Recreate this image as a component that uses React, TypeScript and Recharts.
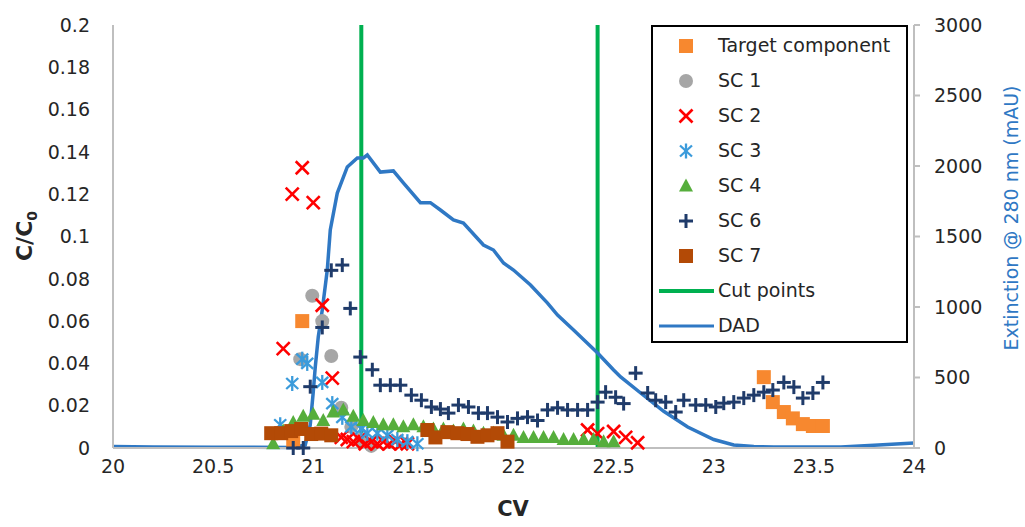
import React from "react";
import {
  ComposedChart,
  XAxis,
  YAxis,
  Scatter,
  Line,
  ReferenceLine,
  Label,
} from "recharts";

const FONT = "DejaVu Sans";
const AXIS_GRAY = "#BFBFBF";
const TEXT = "#262626";

const cvTicks = [20, 20.5, 21, 21.5, 22, 22.5, 23, 23.5, 24];
const ratioTicks = [0, 0.02, 0.04, 0.06, 0.08, 0.1, 0.12, 0.14, 0.16, 0.18, 0.2];
const dadTicks = [0, 500, 1000, 1500, 2000, 2500, 3000];
const cutPoints = [21.24, 22.42];

// [CV, C/C0]
const target: [number, number][] = [
  [20.9, 0.003],
  [20.945, 0.06],
  [23.25, 0.0335],
  [23.295, 0.0217],
  [23.35, 0.017],
  [23.395, 0.014],
  [23.445, 0.0113],
  [23.495, 0.0104],
  [23.545, 0.0104],
];

const sc1: [number, number][] = [
  [20.935, 0.042],
  [20.995, 0.072],
  [21.045, 0.06],
  [21.09, 0.0435],
  [21.14, 0.019],
  [21.19, 0.01],
  [21.24, 0.004],
  [21.29, 0.001],
];

const sc2: [number, number][] = [
  [20.85, 0.047],
  [20.895, 0.12],
  [20.945, 0.1325],
  [21.0, 0.116],
  [21.045, 0.0675],
  [21.095, 0.033],
  [21.14, 0.005],
  [21.17, 0.004],
  [21.2, 0.003],
  [21.23, 0.004],
  [21.26, 0.002],
  [21.29, 0.003],
  [21.32, 0.002],
  [21.35, 0.003],
  [21.38, 0.002],
  [21.41, 0.003],
  [21.44, 0.002],
  [21.47, 0.002],
  [22.37, 0.0085],
  [22.42, 0.0068],
  [22.5, 0.0078],
  [22.56, 0.005],
  [22.62, 0.0025],
];

const sc3: [number, number][] = [
  [20.835, 0.011],
  [20.895, 0.0305],
  [20.945, 0.042],
  [20.97, 0.04],
  [21.045, 0.031],
  [21.095, 0.021],
  [21.145, 0.0145],
  [21.19, 0.01],
  [21.24, 0.009],
  [21.27, 0.007],
  [21.32, 0.007],
  [21.37, 0.006],
  [21.42, 0.004],
  [21.47, 0.003],
  [21.52, 0.002],
];

const sc4: [number, number][] = [
  [20.8, 0.002],
  [20.85, 0.008],
  [20.9, 0.012],
  [20.95, 0.015],
  [21.0, 0.016],
  [21.05, 0.013],
  [21.1, 0.017],
  [21.15, 0.018],
  [21.2, 0.015],
  [21.25, 0.013],
  [21.3, 0.012],
  [21.35, 0.011],
  [21.4, 0.011],
  [21.45, 0.01],
  [21.5, 0.011],
  [21.55, 0.01],
  [21.6, 0.009],
  [21.65, 0.009],
  [21.7, 0.008],
  [21.75, 0.009],
  [21.8, 0.008],
  [21.85, 0.007],
  [21.9, 0.007],
  [21.95, 0.006],
  [22.0, 0.006],
  [22.05, 0.005],
  [22.1, 0.005],
  [22.15, 0.005],
  [22.2, 0.005],
  [22.25, 0.004],
  [22.3, 0.004],
  [22.35, 0.004],
  [22.4, 0.004],
  [22.45, 0.003],
  [22.5, 0.003],
];

const sc6: [number, number][] = [
  [20.9, 0],
  [20.95, 0],
  [20.985, 0.029],
  [21.045, 0.057],
  [21.09, 0.084],
  [21.145, 0.0865],
  [21.185, 0.066],
  [21.235, 0.043],
  [21.295, 0.037],
  [21.335, 0.0297],
  [21.385, 0.0297],
  [21.435, 0.0297],
  [21.49, 0.025],
  [21.54, 0.0226],
  [21.59, 0.0194],
  [21.635, 0.0184],
  [21.675, 0.0165],
  [21.725, 0.0203],
  [21.775, 0.0194],
  [21.825, 0.0165],
  [21.87, 0.0165],
  [21.92, 0.0146],
  [21.97, 0.0123],
  [22.02, 0.014],
  [22.07, 0.0146],
  [22.12, 0.013],
  [22.17, 0.018],
  [22.22, 0.019],
  [22.27, 0.018],
  [22.32, 0.018],
  [22.37, 0.018],
  [22.42, 0.0217],
  [22.46, 0.0264],
  [22.51, 0.024],
  [22.55, 0.021],
  [22.61, 0.0354],
  [22.67, 0.026],
  [22.71, 0.0226],
  [22.76, 0.0217],
  [22.81, 0.017],
  [22.85, 0.0226],
  [22.91, 0.0203],
  [22.96, 0.0203],
  [23.01, 0.0194],
  [23.05, 0.0212],
  [23.1, 0.0217],
  [23.15, 0.0236],
  [23.2, 0.025],
  [23.25, 0.0264],
  [23.295, 0.0274],
  [23.35, 0.031],
  [23.4, 0.0288],
  [23.445, 0.0236],
  [23.495, 0.026],
  [23.545, 0.031],
];

const sc7: [number, number][] = [
  [20.79, 0.007],
  [20.84, 0.007],
  [20.89, 0.008],
  [20.94, 0.009],
  [20.99, 0.0066],
  [21.04, 0.0068],
  [21.09, 0.006],
  [21.57, 0.0085],
  [21.61, 0.005],
  [21.67, 0.0075],
  [21.72, 0.007],
  [21.77, 0.0066],
  [21.82, 0.0053],
  [21.87, 0.006],
  [21.92, 0.007],
  [21.97, 0.003],
];

// [CV, mAU]
const dad: [number, number][] = [
  [20, 10],
  [20.2, 7],
  [20.5, 5],
  [20.9, 4],
  [20.96, 21],
  [20.985, 163],
  [21.0, 397],
  [21.01, 574],
  [21.025, 787],
  [21.045, 979],
  [21.07, 1262],
  [21.085, 1546],
  [21.12, 1808],
  [21.17, 1993],
  [21.22, 2057],
  [21.25, 2057],
  [21.27, 2078],
  [21.335, 1957],
  [21.4, 1965],
  [21.45, 1880],
  [21.535, 1740],
  [21.585, 1740],
  [21.635, 1688],
  [21.7, 1617],
  [21.75, 1596],
  [21.85, 1440],
  [21.9, 1404],
  [21.95, 1312],
  [22.0, 1262],
  [22.085, 1156],
  [22.17, 1028],
  [22.22, 943],
  [22.3, 837],
  [22.42, 674],
  [22.5, 553],
  [22.535, 504],
  [22.635, 390],
  [22.75, 260],
  [22.87, 149],
  [23.0, 60],
  [23.1, 21],
  [23.2, 10],
  [23.3, 7],
  [23.635, 7],
  [23.8, 20],
  [24, 35],
];

const toPts = (arr: [number, number][]) => arr.map(([x, y]) => ({ x, y }));

const COLORS = {
  target: "#F7882F",
  sc1: "#A6A6A6",
  sc2: "#FF0000",
  sc3: "#3B9BDB",
  sc4: "#56AE3C",
  sc6: "#1F3B6A",
  sc7: "#B34A06",
  cut: "#00B050",
  dad: "#2F78C4",
};

type MarkerProps = { cx?: number; cy?: number };

const SquareMark = (color: string) => ({ cx = 0, cy = 0 }: MarkerProps) => (
  <rect x={cx - 7} y={cy - 7} width={14} height={14} fill={color} />
);
const CircleMark = (color: string) => ({ cx = 0, cy = 0 }: MarkerProps) => (
  <circle cx={cx} cy={cy} r={7} fill={color} />
);
const XMark = (color: string) => ({ cx = 0, cy = 0 }: MarkerProps) => (
  <g stroke={color} strokeWidth={2.6}>
    <line x1={cx - 6.5} y1={cy - 6.5} x2={cx + 6.5} y2={cy + 6.5} />
    <line x1={cx - 6.5} y1={cy + 6.5} x2={cx + 6.5} y2={cy - 6.5} />
  </g>
);
const StarMark = (color: string) => ({ cx = 0, cy = 0 }: MarkerProps) => (
  <g stroke={color} strokeWidth={2.3}>
    <line x1={cx - 6} y1={cy - 5.5} x2={cx + 6} y2={cy + 5.5} />
    <line x1={cx - 6} y1={cy + 5.5} x2={cx + 6} y2={cy - 5.5} />
    <line x1={cx} y1={cy - 7.5} x2={cx} y2={cy + 7.5} />
  </g>
);
const TriMark = (color: string) => ({ cx = 0, cy = 0 }: MarkerProps) => (
  <polygon
    points={`${cx},${cy - 7.5} ${cx + 7},${cy + 5.5} ${cx - 7},${cy + 5.5}`}
    fill={color}
  />
);
const PlusMark = (color: string) => ({ cx = 0, cy = 0 }: MarkerProps) => (
  <g stroke={color} strokeWidth={3}>
    <line x1={cx - 7} y1={cy} x2={cx + 7} y2={cy} />
    <line x1={cx} y1={cy - 7} x2={cx} y2={cy + 7} />
  </g>
);

const series = [
  { name: "Target component", data: target, Mark: SquareMark(COLORS.target) },
  { name: "SC 1", data: sc1, Mark: CircleMark(COLORS.sc1) },
  { name: "SC 2", data: sc2, Mark: XMark(COLORS.sc2) },
  { name: "SC 3", data: sc3, Mark: StarMark(COLORS.sc3) },
  { name: "SC 4", data: sc4, Mark: TriMark(COLORS.sc4) },
  { name: "SC 6", data: sc6, Mark: PlusMark(COLORS.sc6) },
  { name: "SC 7", data: sc7, Mark: SquareMark(COLORS.sc7) },
];

const fmtRatio = (v: number) => String(+v.toFixed(2));

const ChartLegend = () => (
  <div
    style={{
      position: "absolute",
      left: 651,
      top: 25,
      width: 257,
      height: 318,
      border: "2px solid #000",
      background: "#fff",
      fontFamily: FONT,
      fontSize: 19,
      color: TEXT,
      boxSizing: "border-box",
    }}
  >
    {series.map((s, i) => (
      <div
        key={s.name}
        style={{ position: "absolute", left: 0, top: 2 + i * 35, height: 35, width: "100%" }}
      >
        <svg width={70} height={35} style={{ position: "absolute", left: 0, top: 0 }}>
          <s.Mark cx={33} cy={17} />
        </svg>
        <span style={{ position: "absolute", left: 65, top: 5, whiteSpace: "nowrap" }}>
          {s.name}
        </span>
      </div>
    ))}
    {[
      { name: "Cut points", color: COLORS.cut, w: 4 },
      { name: "DAD", color: COLORS.dad, w: 3 },
    ].map((l, i) => (
      <div
        key={l.name}
        style={{ position: "absolute", left: 0, top: 2 + (7 + i) * 35, height: 35, width: "100%" }}
      >
        <svg width={70} height={35} style={{ position: "absolute", left: 0, top: 0 }}>
          <line x1={6} y1={17} x2={61} y2={17} stroke={l.color} strokeWidth={l.w} />
        </svg>
        <span style={{ position: "absolute", left: 65, top: 5, whiteSpace: "nowrap" }}>
          {l.name}
        </span>
      </div>
    ))}
  </div>
);

const tickStyle = { fontFamily: FONT, fontSize: 19, fill: TEXT };

export default function App() {
  return (
    <div
      style={{
        position: "absolute",
        left: 0,
        top: 0,
        width: 1025,
        height: 527,
        background: "#fff",
      }}
    >
      <ComposedChart
        width={1025}
        height={527}
        margin={{ top: 25, right: 0, bottom: 0, left: 0 }}
      >
        <XAxis
          dataKey="x"
          type="number"
          domain={[20, 24]}
          ticks={cvTicks}
          height={79}
          tickLine={false}
          tickSize={6}
          tickMargin={6}
          axisLine={{ stroke: AXIS_GRAY, strokeWidth: 2 }}
          tick={tickStyle}
        >
          <Label
            content={() => (
              <text
                x={513}
                y={516}
                textAnchor="middle"
                fontFamily={FONT}
                fontSize={21}
                fontWeight="bold"
                fill={TEXT}
              >
                CV
              </text>
            )}
          />
        </XAxis>
        <YAxis
          yAxisId="left"
          type="number"
          domain={[0, 0.2]}
          ticks={ratioTicks}
          width={113}
          tickLine={false}
          tickSize={6}
          tickMargin={17}
          axisLine={{ stroke: AXIS_GRAY, strokeWidth: 2 }}
          tick={tickStyle}
          tickFormatter={fmtRatio}
        >
          <Label
            content={() => (
              <text
                transform="rotate(-90, 32, 236)"
                x={32}
                y={236}
                textAnchor="middle"
                fontFamily={FONT}
                fontSize={22}
                fontWeight="bold"
                fill={TEXT}
              >
                C/C
                <tspan dy={5} fontSize={14}>
                  0
                </tspan>
              </text>
            )}
          />
        </YAxis>
        <YAxis
          yAxisId="right"
          orientation="right"
          type="number"
          domain={[0, 3000]}
          ticks={dadTicks}
          width={111}
          tickSize={6}
          tickMargin={14}
          tickLine={{ stroke: AXIS_GRAY, strokeWidth: 2 }}
          axisLine={{ stroke: AXIS_GRAY, strokeWidth: 2 }}
          tick={tickStyle}
        >
          <Label
            content={() => (
              <text
                transform="rotate(-90, 1018, 218)"
                x={1018}
                y={218}
                textAnchor="middle"
                fontFamily={FONT}
                fontSize={19}
                fill={COLORS.dad}
              >
                Extinction @ 280 nm (mAU)
              </text>
            )}
          />
        </YAxis>

        {series.map((s) => (
          <Scatter
            key={s.name}
            name={s.name}
            yAxisId="left"
            data={toPts(s.data)}
            dataKey="y"
            isAnimationActive={false}
            shape={(p: any) => <s.Mark cx={p.cx} cy={p.cy} />}
          />
        ))}

        {cutPoints.map((c) => (
          <ReferenceLine
            key={c}
            yAxisId="left"
            x={c}
            stroke={COLORS.cut}
            strokeWidth={4}
          />
        ))}

        <Line
          yAxisId="right"
          data={toPts(dad)}
          dataKey="y"
          type="linear"
          stroke={COLORS.dad}
          strokeWidth={3.5}
          dot={false}
          isAnimationActive={false}
        />
      </ComposedChart>
      <ChartLegend />
    </div>
  );
}
